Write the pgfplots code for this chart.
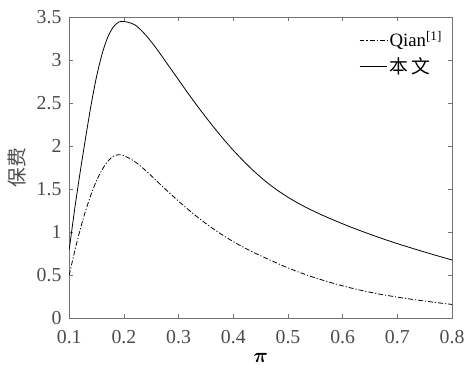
\documentclass[border=0pt]{standalone}
\usepackage{fontspec}
\setmainfont{Liberation Serif}
\newfontfamily\cjk{Noto Sans CJK SC}
\usepackage{amsmath}
\usepackage{pgfplots}
\pgfplotsset{compat=1.18}
\definecolor{axgray}{gray}{0.45}
\definecolor{txtgray}{gray}{0.3}
\begin{document}
\fontsize{20}{23}\selectfont
\begin{tikzpicture}
\begin{axis}[
  scale only axis,
  width=387pt, height=304.4pt,
  xmin=0.1, xmax=0.8, ymin=0, ymax=3.5,
  xtick={0.1,0.2,0.3,0.4,0.5,0.6,0.7,0.8},
  ytick={0,0.5,1,1.5,2,2.5,3,3.5},
  /pgf/number format/assume math mode=true,
  tick align=inside,
  major tick length=4pt,
  axis line style={axgray, line width=0.7pt},
  every tick/.style={axgray, line width=0.7pt},
  tick label style={font=\fontsize{20}{23}\selectfont, text=txtgray},
  xticklabel style={yshift=-5pt},
  yticklabel style={xshift=-1pt},
  xlabel={$\boldsymbol{\pi}$},
  xlabel style={at={(axis description cs:0.5,0)}, anchor=center, yshift=-40pt, font=\fontsize{22}{24}\selectfont, text=black},
  ylabel={\cjk 保费},
  ylabel style={at={(axis description cs:-0.137,0.5)}, anchor=center, font=\fontsize{20}{23}\selectfont, text=txtgray},
  legend style={draw=none, fill=none, at={(1,1)}, anchor=north east, xshift=-7pt, yshift=-11pt,
    font=\fontsize{19}{22}\selectfont, text=black, row sep=4pt, inner sep=1pt},
  legend cell align=left,
  legend image code/.code={\draw[#1] (0pt,0pt) -- (28pt,0pt);},
]
\addplot[black, line width=0.8pt, dash pattern=on 5pt off 2pt on 1.2pt off 2pt, smooth, tension=0.5] coordinates {
(0.10,0.50) (0.11,0.78) (0.12,1.03) (0.13,1.25) (0.14,1.44) (0.15,1.60) (0.16,1.725)
(0.17,1.82) (0.18,1.88) (0.19,1.90) (0.20,1.89)
(0.22,1.82) (0.24,1.715) (0.26,1.595) (0.28,1.475) (0.30,1.36) (0.32,1.25) (0.34,1.148)
(0.36,1.054) (0.38,0.968) (0.40,0.89) (0.42,0.82) (0.44,0.756) (0.46,0.697) (0.48,0.640)
(0.50,0.585) (0.52,0.535) (0.54,0.490) (0.56,0.449) (0.58,0.411) (0.60,0.376) (0.62,0.344)
(0.64,0.315) (0.66,0.289) (0.68,0.266) (0.70,0.245) (0.72,0.226) (0.74,0.208) (0.76,0.191)
(0.78,0.175) (0.80,0.160)
};
\addlegendentry{Qian\textsuperscript{[1]}}
\addplot[black, line width=0.8pt, smooth, tension=0.5] coordinates {
(0.10,0.80) (0.11,1.27) (0.12,1.70) (0.13,2.10) (0.14,2.48) (0.15,2.81) (0.16,3.07)
(0.17,3.26) (0.18,3.38) (0.19,3.44) (0.20,3.45)
(0.22,3.41) (0.24,3.29) (0.26,3.13) (0.28,2.95) (0.30,2.77) (0.32,2.59) (0.34,2.418)
(0.36,2.254) (0.38,2.098) (0.40,1.952) (0.42,1.818) (0.44,1.696) (0.46,1.586) (0.48,1.490)
(0.50,1.406) (0.52,1.332) (0.54,1.266) (0.56,1.206) (0.58,1.150) (0.60,1.097) (0.62,1.047)
(0.64,0.999) (0.66,0.953) (0.68,0.909) (0.70,0.867) (0.72,0.827) (0.74,0.788) (0.76,0.750)
(0.78,0.713) (0.80,0.677)
};
\addlegendentry{{\cjk 本\hspace{3pt}文}}
\end{axis}
\path ([shift={(-70pt,-51.3pt)}]current axis.south west) rectangle ([shift={(14pt,17.3pt)}]current axis.north east);
\end{tikzpicture}
\end{document}
